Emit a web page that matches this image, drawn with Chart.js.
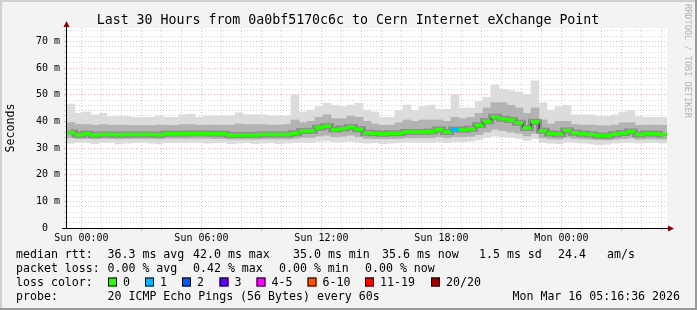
<!DOCTYPE html>
<html>
<head>
<meta charset="utf-8">
<script src="https://cdn.jsdelivr.net/npm/chart.js@4.4.1/dist/chart.umd.min.js"></script>
<style>
	html, body { margin: 0; padding: 0; background: #f3f3f3; }
	#wrap { width: 697px; height: 310px; }
</style>
</head>
<body>
<div id="wrap"><canvas id="smoke" width="697" height="310"></canvas></div>
<script>
// smokeping style graph, 30 hours, one slot = 24 min

const titleText = 'Last 30 Hours from 0a0bf5170c6c to Cern Internet eXchange Point';
const slotHours = 0.4;
const firstHourOffset = 43.4 / 60; // Sun 00:00 after the start (Sat 23:16:36)
const xTickLabels = ['Sun 00:00', 'Sun 06:00', 'Sun 12:00', 'Sun 18:00', 'Mon 00:00'];

// median rtt (ms) per slot
const medianRtt = [
	35.8, 35.0, 35.3, 34.9, 35.1, 35.1, 35.0, 35.1, 35.1, 35.1, 35.1, 35.0, 35.3, 35.3, 35.3,
	35.4, 35.4, 35.4, 35.3, 35.3, 34.9, 34.9, 34.9, 34.9, 35.1, 35.1, 35.1, 35.1, 35.5, 36.4,
	36.5, 37.6, 38.2, 36.9, 37.3, 37.9, 37.0, 35.7, 35.5, 35.3, 35.5, 35.5, 36.0, 36.0, 36.0,
	36.2, 36.9, 36.0, 36.9, 36.8, 37.2, 38.5, 40.0, 41.7, 41.0, 40.5, 39.5, 37.5, 39.8, 36.5,
	35.4, 35.2, 36.6, 35.7, 35.3, 35.1, 34.7, 34.6, 35.2, 35.6, 36.2, 35.1, 35.4, 35.3, 35.1
];
// slowest ping per slot
const maxRtt = [
	46.5, 43.0, 43.5, 42.4, 43.0, 41.8, 41.8, 41.8, 41.5, 41.5, 41.5, 42.0, 41.5, 41.5, 42.5,
	42.7, 41.5, 42.0, 42.0, 42.0, 42.0, 43.2, 42.5, 42.5, 42.5, 42.0, 42.0, 42.0, 49.9, 43.5,
	44.2, 45.5, 46.8, 45.9, 45.5, 46.1, 46.8, 44.2, 43.5, 41.5, 41.5, 44.0, 46.1, 44.2, 45.5,
	46.1, 44.5, 44.5, 50.0, 45.0, 45.0, 47.4, 49.0, 53.6, 52.0, 51.5, 51.0, 50.0, 55.2, 47.0,
	44.2, 45.5, 46.0, 42.4, 42.4, 42.4, 41.8, 41.8, 42.4, 43.5, 44.0, 41.8, 41.5, 41.5, 41.5
];
// upper edge of the dense smoke
const upperRtt = [
	39.5, 38.8, 38.8, 38.5, 38.8, 38.5, 38.6, 38.5, 38.4, 38.5, 38.4, 38.6, 38.5, 38.5, 38.8,
	38.8, 38.5, 38.6, 38.6, 38.5, 38.6, 39.0, 38.8, 38.8, 38.8, 38.6, 38.6, 38.8, 40.5, 39.5,
	40.0, 41.5, 42.5, 41.0, 41.0, 42.0, 41.5, 40.0, 39.0, 38.5, 38.6, 39.5, 40.5, 40.0, 40.5,
	40.5, 40.5, 40.0, 41.5, 41.0, 41.5, 43.0, 45.0, 47.0, 47.0, 46.0, 45.0, 43.0, 45.0, 40.5,
	39.0, 40.0, 40.0, 38.8, 38.6, 38.6, 38.4, 38.3, 38.6, 39.5, 39.5, 38.5, 38.6, 38.6, 38.5
];
// lower edge of the dense smoke
const lowerRtt = [
	33.8, 33.5, 33.5, 33.4, 33.5, 33.5, 33.4, 33.5, 33.5, 33.5, 33.5, 33.4, 33.6, 33.6, 33.6,
	33.6, 33.6, 33.6, 33.5, 33.5, 33.3, 33.3, 33.3, 33.3, 33.4, 33.4, 33.4, 33.4, 33.6, 34.0,
	34.0, 34.5, 34.8, 34.2, 34.4, 34.8, 34.2, 33.6, 33.5, 33.4, 33.5, 33.5, 33.8, 33.8, 33.8,
	33.8, 34.2, 33.8, 34.2, 34.2, 34.4, 35.0, 36.0, 37.0, 36.5, 36.0, 35.5, 34.5, 35.5, 33.8,
	33.4, 33.3, 34.0, 33.6, 33.4, 33.3, 33.1, 33.0, 33.3, 33.5, 33.8, 33.3, 33.4, 33.4, 33.3
];
// fastest ping per slot
const minRtt = [
	31.8, 32.2, 32.0, 31.6, 32.0, 32.2, 31.5, 31.8, 32.0, 32.2, 31.8, 31.5, 32.0, 32.2, 32.0,
	32.2, 32.0, 31.8, 32.0, 32.2, 31.6, 31.8, 32.0, 31.6, 31.8, 32.0, 31.6, 31.8, 32.0, 32.2,
	32.0, 32.5, 32.6, 32.2, 32.4, 32.5, 32.0, 31.8, 32.0, 31.6, 31.8, 32.0, 32.2, 32.0, 32.0,
	32.0, 32.4, 32.0, 32.4, 32.4, 32.6, 33.0, 34.0, 34.5, 34.2, 34.0, 33.6, 32.8, 33.5, 32.0,
	31.8, 31.6, 32.2, 32.0, 31.8, 31.5, 31.2, 31.4, 31.8, 32.0, 32.2, 31.8, 32.0, 32.0, 31.8
];
// lost pings (of 20) per slot
const lostPings = [
	0, 0, 0, 0, 0, 0, 0, 0, 0, 0, 0, 0, 0, 0, 0,
	0, 0, 0, 0, 0, 0, 0, 0, 0, 0, 0, 0, 0, 0, 0,
	0, 0, 0, 0, 0, 0, 0, 0, 0, 0, 0, 0, 0, 0, 0,
	0, 0, 0, 1, 0, 0, 0, 0, 0, 0, 0, 0, 0, 0, 0,
	0, 0, 0, 0, 0, 0, 0, 0, 0, 0, 0, 0, 0, 0, 0
];

const lossLabels = ['0', '1', '2', '3', '4-5', '6-10', '11-19', '20/20'];
const lossColors = ['#26ff00', '#00b8ff', '#0059ff', '#5e00ff', '#ff00ff', '#ff5500', '#ff0000', '#a10000'];

const statsRtt = ['36.3 ms avg', '42.0 ms max', '35.0 ms min', '35.6 ms now', '1.5 ms sd', '24.4', 'am/s'];
const statsLoss = ['0.00 % avg', '0.42 % max', '0.00 % min', '0.00 % now'];
const probeText = '20 ICMP Echo Pings (56 Bytes) every 60s';
const stampText = 'Mon Mar 16 05:16:36 2026';

const FONT = '"DejaVu Sans Mono", monospace';
const MEDIAN_HALF = 0.55; // half height of the median mark, in ms (about 3px)

function lossColor(n) {
	if (n <= 0) return lossColors[0];
	if (n <= 3) return lossColors[n];
	if (n <= 5) return lossColors[4];
	if (n <= 10) return lossColors[5];
	if (n <= 19) return lossColors[6];
	return lossColors[7];
}

const slotX = (i) => i * slotHours + slotHours / 2;
const band = (lo, hi) => lo.map((v, i) => ({ x: slotX(i), y: [v, hi[i]] }));
const medianPts = medianRtt.map((v, i) => ({ x: slotX(i), y: v }));
const medianBars = medianRtt.map((v, i) => ({ x: slotX(i), y: [v - MEDIAN_HALF, v + MEDIAN_HALF] }));

const barBase = {
	borderWidth: 0,
	grouped: false,
	barPercentage: 1,
	categoryPercentage: 1
};

const frame = {
	id: 'rrdFrame',
	beforeDraw(chart) {
		const { ctx, chartArea: a } = chart;
		ctx.save();
		ctx.fillStyle = '#f3f3f3';
		ctx.fillRect(0, 0, chart.width, chart.height);
		ctx.fillStyle = '#ffffff';
		ctx.fillRect(a.left, a.top, a.right - a.left, a.bottom - a.top);
		// 3d-ish outline
		ctx.fillStyle = '#d0d0d0';
		ctx.fillRect(0, 0, chart.width, 2);
		ctx.fillRect(0, 0, 2, chart.height);
		ctx.fillStyle = '#9a9a9a';
		ctx.fillRect(0, chart.height - 2, chart.width, 2);
		ctx.fillRect(chart.width - 2, 0, 2, chart.height);
		ctx.restore();
	},
	afterDraw(chart) {
		const { ctx } = chart;
		ctx.save();

		// axes + arrows
		ctx.strokeStyle = '#000';
		ctx.lineWidth = 1;
		ctx.beginPath();
		ctx.moveTo(66.5, 229);
		ctx.lineTo(66.5, 24);
		ctx.moveTo(62, 228.5);
		ctx.lineTo(669, 228.5);
		ctx.stroke();
		ctx.fillStyle = '#8b0000';
		ctx.beginPath();
		ctx.moveTo(63.5, 27);
		ctx.lineTo(69.5, 27);
		ctx.lineTo(66.5, 21);
		ctx.closePath();
		ctx.fill();
		ctx.beginPath();
		ctx.moveTo(668, 225.5);
		ctx.lineTo(668, 231.5);
		ctx.lineTo(674, 228.5);
		ctx.closePath();
		ctx.fill();

		// title
		ctx.fillStyle = '#000';
		ctx.font = '13.25px ' + FONT;
		ctx.textAlign = 'center';
		ctx.textBaseline = 'alphabetic';
		ctx.fillText(titleText, 348, 24);

		// vertical label
		ctx.save();
		ctx.translate(14, 128);
		ctx.rotate(-Math.PI / 2);
		ctx.font = '11.6px ' + FONT;
		ctx.fillText('Seconds', 0, 0);
		ctx.restore();

		// watermark
		ctx.save();
		ctx.translate(685, 4);
		ctx.rotate(Math.PI / 2);
		ctx.font = '8.6px ' + FONT;
		ctx.fillStyle = '#b4b4b4';
		ctx.textAlign = 'left';
		ctx.fillText('RRDTOOL / TOBI OETIKER', 0, 0);
		ctx.restore();

		// legend rows
		ctx.font = '11.6px ' + FONT;
		ctx.textAlign = 'left';
		ctx.fillStyle = '#000';
		const rttX = [107.5, 193, 293, 382, 479, 558, 607];
		ctx.fillText('median rtt:', 16, 258);
		statsRtt.forEach((s, i) => ctx.fillText(s, rttX[i], 258));
		const lossX = [107.5, 193, 279, 365];
		ctx.fillText('packet loss:', 16, 272);
		statsLoss.forEach((s, i) => ctx.fillText(s, lossX[i], 272));

		ctx.fillText('loss color:', 16, 286);
		const boxX = [108, 145, 182, 219.5, 256.5, 307.5, 365, 431];
		lossLabels.forEach((s, i) => {
			ctx.fillStyle = lossColors[i];
			ctx.fillRect(boxX[i], 277.5, 9, 9);
			ctx.strokeStyle = '#000';
			ctx.strokeRect(boxX[i] + 0.5, 277.5 + 0.5, 8, 8);
			ctx.fillStyle = '#000';
			ctx.fillText(s, boxX[i] + 15, 286);
		});

		ctx.fillText('probe:', 16, 300);
		ctx.fillText(probeText, 107.5, 300);
		ctx.textAlign = 'right';
		ctx.fillText(stampText, 680, 300);

		ctx.restore();
	}
};

const redGrid = 'rgba(255, 0, 0, 0.32)';
const greyGrid = 'rgba(120, 120, 120, 0.32)';

new Chart(document.getElementById('smoke').getContext('2d'), {
	type: 'bar',
	data: {
		datasets: [
			Object.assign({ label: 'smoke outer', data: band(minRtt, maxRtt), backgroundColor: '#dcdcdc', order: 6 }, barBase),
			Object.assign({ label: 'smoke inner', data: band(lowerRtt, upperRtt), backgroundColor: '#b3b3b3', order: 5 }, barBase),
			{
				type: 'line',
				label: 'core',
				data: medianPts,
				borderColor: 'rgba(80, 80, 80, 0.38)',
				borderWidth: 6,
				stepped: 'middle',
				pointRadius: 0,
				order: 4
			},
			{
				type: 'line',
				label: 'steps',
				data: medianPts,
				borderColor: '#1a1a1a',
				borderWidth: 1,
				stepped: 'middle',
				pointRadius: 0,
				order: 3
			},
			Object.assign({
				label: 'median rtt',
				data: medianBars,
				backgroundColor: lostPings.map(lossColor),
				order: 1
			}, barBase)
		]
	},
	options: {
		responsive: false,
		devicePixelRatio: 1,
		animation: false,
		layout: { padding: { top: 28, right: 30, bottom: 0, left: 0 } },
		plugins: {
			legend: { display: false },
			tooltip: { enabled: false },
			title: { display: false }
		},
		scales: {
			x: {
				type: 'linear',
				min: 0,
				max: 30,
				offset: false,
				z: 1,
				afterFit: (s) => { s.height = 82; },
				afterBuildTicks: (s) => {
					const t = [];
					for (let k = 0; k < 30; k++) t.push({ value: firstHourOffset + k });
					s.ticks = t;
				},
				grid: {
					offset: false,
					color: (c) => (c.index % 3 === 0 ? redGrid : greyGrid),
					lineWidth: 1,
					drawTicks: true,
					tickLength: 3
				},
				border: { display: false, dash: [1, 2] },
				ticks: {
					autoSkip: false,
					maxRotation: 0,
					padding: 1,
					color: '#000',
					font: { family: 'DejaVu Sans Mono', size: 10 },
					callback: (v, i) => (i % 6 === 0 ? xTickLabels[i / 6] : '')
				}
			},
			y: {
				min: 0,
				max: 75,
				z: 1,
				afterFit: (s) => { s.width = 67; },
				afterBuildTicks: (s) => {
					const t = [];
					for (let v = 0; v < 75; v += 2) t.push({ value: v });
					s.ticks = t;
				},
				grid: {
					color: (c) => (c.tick && c.tick.value % 10 === 0 ? redGrid : greyGrid),
					lineWidth: 1,
					drawTicks: true,
					tickLength: 3
				},
				border: { display: false, dash: [1, 2] },
				ticks: {
					autoSkip: false,
					padding: 4,
					color: '#000',
					font: { family: 'DejaVu Sans Mono', size: 10 },
					callback: (v) => {
						if (v % 10 !== 0) return '';
						return v === 0 ? '0  ' : v + ' m';
					}
				}
			}
		}
	},
	plugins: [frame]
});
</script>
</body>
</html>
